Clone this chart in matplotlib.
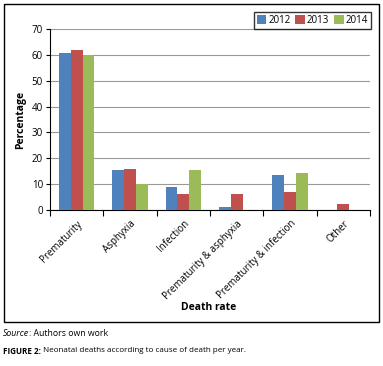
import numpy as np
import matplotlib
matplotlib.use('Agg')
import matplotlib.pyplot as plt
from matplotlib.patches import Rectangle
from matplotlib.transforms import offset_copy

# data
causes = ['Prematurity', 'Asphyxia', 'Infection', 'Prematurity & asphyxia',
          'Prematurity & infection', 'Other']
years = ['2012', '2013', '2014']
y2012 = [60.7, 15.6, 9.0, 1.0, 13.4, 0.0]
y2013 = [62.0, 15.8, 6.0, 6.0, 7.1, 2.2]
y2014 = [60.0, 10.0, 15.6, 0.0, 14.2, 0.0]
colors = ['#4F81BD', '#C0504D', '#9BBB59']

plt.rcParams['font.family'] = ['Open Sans', 'DejaVu Sans']

fig = plt.figure(figsize=(3.83, 3.66), dpi=100)

# outer frame around chart
fig.patches.append(Rectangle((4 / 383, 1 - 322 / 366), 375 / 383, 318 / 366,
                             transform=fig.transFigure, fill=False,
                             edgecolor='black', linewidth=1.0))

ax = fig.add_axes([50 / 383, 1 - 210 / 366, 320 / 383, 181 / 366])

x = np.arange(len(causes))
w = 0.22
for i, (vals, yr) in enumerate(zip([y2012, y2013, y2014], years)):
    ax.bar(x + (i - 1) * w, vals, w, color=colors[i], label=yr, zorder=3)

ax.set_xlim(-0.5, len(causes) - 0.5)
ax.set_ylim(0, 70)
ax.set_yticks(range(0, 71, 10))
ax.yaxis.grid(True, color='#999999', linewidth=0.8, zorder=0)
ax.tick_params(axis='y', labelsize=7, length=3, width=0.8, pad=2)

ax.set_xticks(np.arange(-0.5, len(causes)), minor=False)
ax.set_xticklabels([])
ax.set_xticks(x, minor=True)
ax.set_xticklabels(causes, minor=True, rotation=45, ha='right',
                   rotation_mode='anchor', fontsize=7)
ax.tick_params(axis='x', which='major', length=4, width=0.8)
ax.tick_params(axis='x', which='minor', length=0, pad=6)

for s in ['top', 'right']:
    ax.spines[s].set_visible(False)
ax.spines['left'].set_linewidth(0.8)
ax.spines['bottom'].set_linewidth(0.8)

ax.set_ylabel('Percentage', fontsize=7.5, fontweight='bold', labelpad=4)
fig.text(209 / 383, 1 - 308 / 366, 'Death rate', fontsize=7.5, fontweight='bold',
         ha='center', va='center')

leg = fig.legend(loc='upper right', bbox_to_anchor=(376 / 383, 1 - 7 / 366),
                 ncol=3, fontsize=7, frameon=True, fancybox=False,
                 handlelength=1.0, handleheight=1.0, handletextpad=0.2,
                 columnspacing=0.5, borderpad=0.3)
leg.get_frame().set_edgecolor('black')
leg.get_frame().set_linewidth(1.0)


def text_run(parts, x0, y0, size):
    # draw a run of differently styled text pieces one after another
    renderer = fig.canvas.get_renderer()
    tr = fig.transFigure
    for s, style, weight in parts:
        t = fig.text(x0, y0, s, fontsize=size, style=style, fontweight=weight,
                     ha='left', va='center', transform=tr)
        wpx = t.get_window_extent(renderer).width
        tr = offset_copy(tr, fig=fig, x=wpx, y=0, units='dots')


text_run([('Source', 'italic', 'normal'), (': Authors own work', 'normal', 'normal')],
         3 / 383, 1 - 333 / 366, 6.3)
text_run([('FIGURE 2:', 'normal', 'bold'),
          (' Neonatal deaths according to cause of death per year.', 'normal', 'normal')],
         3 / 383, 1 - 351 / 366, 5.8)

fig.savefig('out.png', dpi=100)
